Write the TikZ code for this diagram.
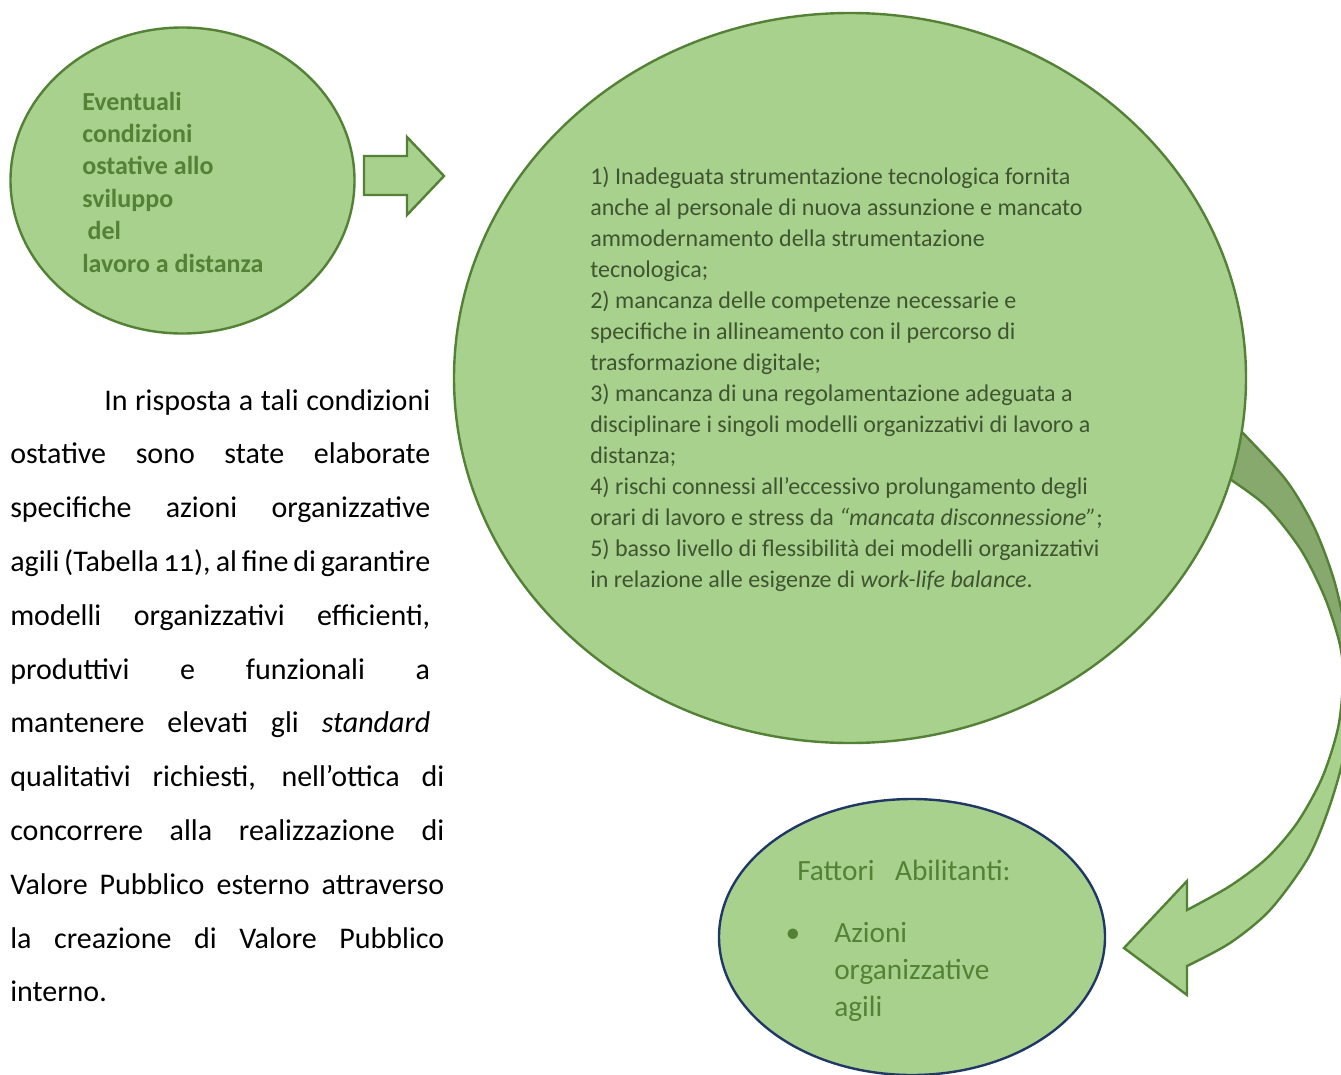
\documentclass[tikz,border=0pt]{standalone}
\usepackage{fontspec}
\setmainfont{Carlito}
\usetikzlibrary{shapes.geometric,positioning}

\definecolor{leaf}{HTML}{A9D18E}
\definecolor{leafdark}{HTML}{538135}
\definecolor{leafshade}{HTML}{87A96E}
\definecolor{navy}{HTML}{203864}
\definecolor{bodytext}{HTML}{3E5530}

\tikzset{
  bubble/.style={ellipse, draw=leafdark, fill=leaf, line width=1.8pt, inner sep=0pt},
  listtext/.style={anchor=base west, align=left, inner sep=0pt},
  parline/.style={anchor=base west, inner sep=0pt, font=\fontsize{22.5}{27}\selectfont},
}

\begin{document}
\begin{tikzpicture}[x=0.75pt,y=-0.75pt]
\useasboundingbox (0,0) rectangle (1341,1074);
\clip (0,0) rectangle (1341,1074);

% curved arrow, behind the big bubble
\path[save path=\bandoutline]
  plot[smooth] coordinates {(1222,412) (1242,432) (1286,480) (1314,527) (1334,580)
    (1346,635) (1350,690) (1345,750) (1330,805) (1308,858) (1270,910) (1230,943) (1187,966)}
  -- (1187,995) -- (1124,948) -- (1187,881) -- (1187,910)
  -- plot[smooth] coordinates {(1187,910) (1230,886) (1267,858) (1297,823) (1322,778)
    (1338,728) (1343,680) (1340,645) (1325,598) (1301,550) (1267,507) (1230,479) (1210,465)}
  -- cycle;
\fill[leaf, use path=\bandoutline];
\begin{scope}
  \clip (1100,380) rectangle (1400,676);
  \fill[leafshade, use path=\bandoutline];
\end{scope}
\draw[leafdark, line width=1.8pt, use path=\bandoutline];

% bubbles
\node[bubble, minimum width=258pt, minimum height=229.5pt] (cause) at (182.5,180.5) {};
\node[bubble, minimum width=594pt, minimum height=547.5pt] (obstacle) at (850,378) {};
\node[bubble, draw=navy, minimum width=289.5pt, minimum height=207pt] (enabler) at (912,937) {};

% block arrow
\draw[leafdark, fill=leaf, line width=1.8pt]
  (364,156) -- (407,156) -- (407,137) -- (444,176) -- (407,215) -- (407,195) -- (364,195) -- cycle;

% texts in the bubbles (base = last line)
\node[listtext, text=leafdark, font=\bfseries\fontsize{19.5}{24.3}\selectfont] (causetext) at (82,272)
  {Eventuali\\condizioni\\ostative allo\\sviluppo\\\hspace*{4pt}del\\lavoro a distanza};

\node[listtext, text=bodytext, font=\fontsize{18}{23.25}\selectfont] (obstacletext) at (590,587)
  {1) Inadeguata strumentazione tecnologica fornita\\
   anche al personale di nuova assunzione e mancato\\
   ammodernamento della strumentazione\\
   tecnologica;\\
   2) mancanza delle competenze necessarie e\\
   specifiche in allineamento con il percorso di\\
   trasformazione digitale;\\
   3) mancanza di una regolamentazione adeguata a\\
   disciplinare i singoli modelli organizzativi di lavoro a\\
   distanza;\\
   4) rischi connessi all’eccessivo prolungamento degli\\
   orari di lavoro e stress da \textit{“mancata disconnessione”};\\
   5) basso livello di flessibilità dei modelli organizzativi\\
   in relazione alle esigenze di \textit{work-life balance}.};

\node[anchor=base west, inner sep=0pt, text=leafdark, font=\fontsize{22}{27.75}\selectfont] (enablertitle) at (797,880)
  {Fattori\hspace{15.5pt}Abilitanti:};
\node[anchor=base, inner sep=0pt, text=leafdark, font=\fontsize{22}{27.75}\selectfont] (bullet) at (793,942) {•};
\node[listtext, text=leafdark, font=\fontsize{22}{27.75}\selectfont] (enablertext) at (834,1016)
  {Azioni\\organizzative\\agili};

% paragraph
\node[parline] (p1) at (104,410) {\makebox[244.5pt][s]{In risposta a tali condizioni}};
\node[parline] (p2) at (10,463.8) {\makebox[315pt][s]{ostative sono state elaborate}};
\node[parline] (p3) at (10,517.6) {\makebox[315pt][s]{specifiche azioni organizzative}};
\node[parline] (p4) at (10,571.4) {\makebox[315pt][s]{agili (Tabella {\addfontfeature{Numbers=OldStyle}11}), al fine di garantire}};
\node[parline] (p5) at (10,625.2) {\makebox[315pt][s]{modelli organizzativi efficienti,}};
\node[parline] (p6) at (10,679) {\makebox[315pt][s]{produttivi e funzionali a}};
\node[parline] (p7) at (10,732.8) {\makebox[315pt][s]{mantenere elevati gli \textit{standard}}};
\node[parline] (p8) at (10,786.6) {\makebox[325.5pt][s]{qualitativi richiesti, nell’ottica di}};
\node[parline] (p9) at (10,840.4) {\makebox[325.5pt][s]{concorrere alla realizzazione di}};
\node[parline] (p10) at (10,894.2) {\makebox[325.5pt][s]{Valore Pubblico esterno attraverso}};
\node[parline] (p11) at (10,948) {\makebox[325.5pt][s]{la creazione di Valore Pubblico}};
\node[parline] (p12) at (10,1001.8) {interno.};
\end{tikzpicture}
\end{document}
